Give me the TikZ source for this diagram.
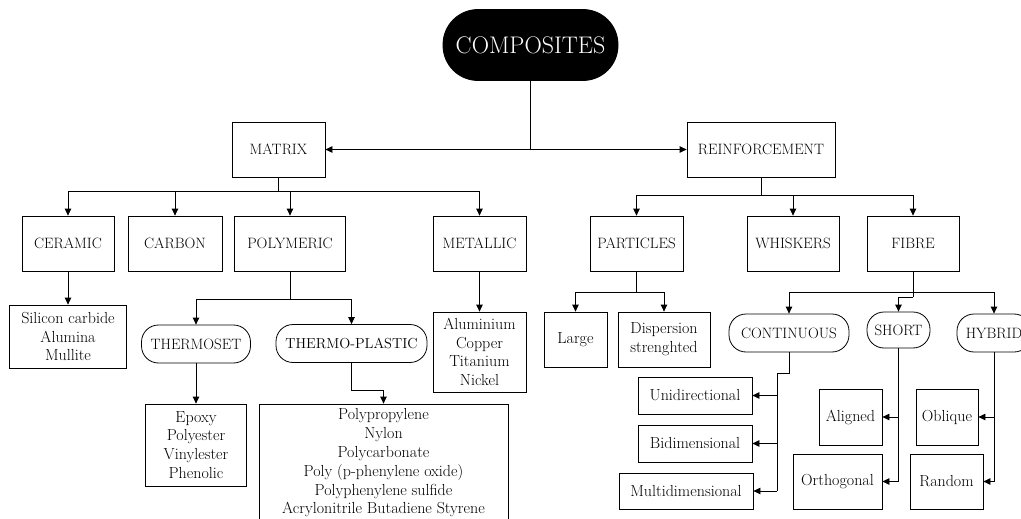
\documentclass[tikz,border=0pt]{standalone}
\usepackage{tikz}
\usetikzlibrary{calc}
\usetikzlibrary{positioning}
\usetikzlibrary{arrows.meta}

\begin{document}
\begin{tikzpicture}[x=1pt,y=-1pt,>={Triangle[length=7pt,width=6.5pt]},line width=0.8pt,
  box/.style 2 args={draw,rectangle,minimum width=#1pt,minimum height=#2pt,inner sep=0pt,align=center,font=\fontsize{15}{18.8}\selectfont},
  pill/.style 2 args={box={#1}{#2},rounded corners=17pt},
  lc/.style={font=\fontsize{16}{18.8}\selectfont}]

\useasboundingbox (0,0) rectangle (1021,519);

\node[box={175}{71},rounded corners=35pt,fill=black,text=white,font=\fontsize{24}{28}\selectfont] (comp) at (530.5,45) {COMPOSITES};

\node[box={93}{55}] (matrix) at (278.5,149.5) {MATRIX};
\node[box={148}{55}] (reinf) at (761,149.5) {REINFORCEMENT};

\node[box={92}{55}] (ceramic) at (68,243.5) {CERAMIC};
\node[box={94}{55}] (carbon) at (175,243.5) {CARBON};
\node[box={111}{55}] (polymeric) at (290,243.5) {POLYMERIC};
\node[box={93}{55}] (metallic) at (479.5,243.5) {METALLIC};
\node[box={93}{55}] (particles) at (636.5,243.5) {PARTICLES};
\node[box={92}{55}] (whiskers) at (793,243.5) {WHISKERS};
\node[box={92}{55}] (fibre) at (913,243.5) {FIBRE};

\node[box={117}{63},lc] (ceramlist) at (68,336.5) {Silicon carbide\\Alumina\\Mullite};
\node[pill={109}{38}] (thermoset) at (196,344) {THERMOSET};
\node[pill={151}{38},font=\fontsize{14.5}{18}\selectfont] (thermoplastic) at (351.5,343.5) {THERMO-PLASTIC};
\node[box={93}{80},lc] (metallist) at (479.5,352) {Aluminium\\Copper\\Titanium\\Nickel};
\node[box={63}{55},lc] (large) at (575.5,339.5) {Large};
\node[box={92}{55},lc] (dispersion) at (664,339.5) {Dispersion\\strenghted};
\node[pill={120}{38}] (continuous) at (789,333) {CONTINUOUS};
\node[pill={63}{36}] (short) at (898.5,330) {SHORT};
\node[pill={74}{38}] (hybrid) at (994,333) {HYBRID};

\node[box={101}{82},lc] (thermosetlist) at (196,445) {Epoxy\\Polyester\\Vinylester\\Phenolic};
\node[box={249}{118},lc] (plasticlist) at (383.5,463) {Polypropylene\\Nylon\\Polycarbonate\\Poly (p-phenylene oxide)\\Polyphenylene sulfide\\Acrylonitrile Butadiene Styrene};
\node[box={114}{37},lc] (uni) at (695,395.5) {Unidirectional};
\node[box={114}{37},lc] (bidi) at (695,443.5) {Bidimensional};
\node[box={134}{36},lc] (multi) at (686,491) {Multidimensional};
\node[box={63}{56},lc] (aligned) at (850.5,417) {Aligned};
\node[box={89}{55},lc] (ortho) at (837.5,481.5) {Orthogonal};
\node[box={62}{56},lc] (oblique) at (947,417) {Oblique};
\node[box={73}{55},lc] (random) at (946.5,481.5) {Random};

\coordinate (top) at (comp.south |- matrix.east);
\draw (comp) -- (top);
\draw[<->] (matrix) -- (reinf);

\coordinate (mj) at (278.5,191);
\draw (matrix) -- (mj);
\foreach \n in {ceramic,carbon,polymeric,metallic} \draw[->] (mj) -| (\n);

\coordinate (rj) at (761,195);
\draw (reinf) -- (rj);
\foreach \n in {particles,whiskers,fibre} \draw[->] (rj) -| (\n);

\draw[->] (ceramic) -- (ceramlist);
\draw[->] (metallic) -- (metallist);

\coordinate (pj) at (290,299);
\draw (polymeric) -- (pj);
\foreach \n in {thermoset,thermoplastic} \draw[->] (pj) -| (\n);

\draw[->] (thermoset) -- (thermosetlist);
\coordinate (tj) at (383.5,390);
\draw[->] (thermoplastic) |- (tj) -- (plasticlist);

\coordinate (paj) at (636.5,292);
\draw (particles) -- (paj);
\foreach \n in {large,dispersion} \draw[->] (paj) -| (\n);

\coordinate (fj) at (913,292);
\coordinate (sj) at (913,297);
\draw (fibre) -- (sj);
\draw[->] (fj) -| (continuous);
\draw[->] (fj) -| (hybrid);
\draw[->] (sj) -| (short);

\coordinate (cj) at (777,373);
\draw (continuous) |- (cj) -- (cj |- multi);
\foreach \n in {uni,bidi,multi} \draw[->] (cj |- \n) -- (\n);

\draw (short) -- (short |- ortho);
\foreach \n in {aligned,ortho} \draw[->] (short |- \n) -- (\n);

\draw (hybrid) -- (hybrid |- random);
\foreach \n in {oblique,random} \draw[->] (hybrid |- \n) -- (\n);
\end{tikzpicture}
\end{document}
